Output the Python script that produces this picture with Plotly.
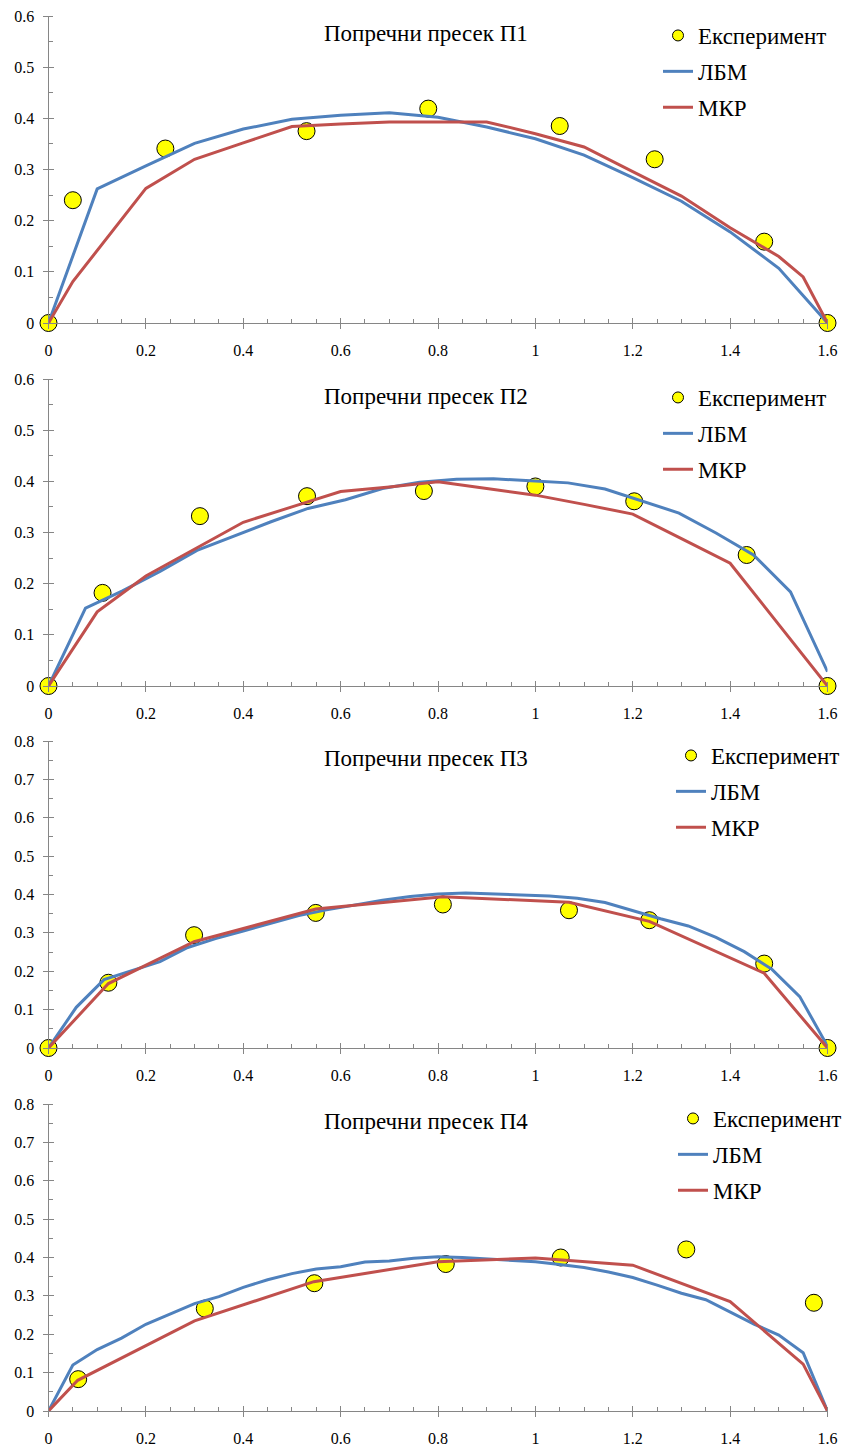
import plotly.graph_objects as go

# ---- data: velocity profiles across four cross-sections ----
titles = ["Попречни пресек П1", "Попречни пресек П2", "Попречни пресек П3", "Попречни пресек П4"]
name_exp, name_lbm, name_mkr = "Експеримент", "ЛБМ", "МКР"

exp1_x = [0, 0.05, 0.24, 0.53, 0.78, 1.05, 1.245, 1.47, 1.6]
exp1_y = [0, 0.24, 0.341, 0.375, 0.419, 0.385, 0.32, 0.159, 0]
lbm1_x = [0, 0.1, 0.2, 0.3, 0.4, 0.5, 0.6, 0.7, 0.8, 0.9, 1.0, 1.1, 1.2, 1.3, 1.4, 1.5, 1.6]
lbm1_y = [0, 0.262, 0.307, 0.351, 0.379, 0.398, 0.406, 0.411, 0.402, 0.383, 0.36, 0.328, 0.284, 0.238, 0.178, 0.107, 0]
mkr1_x = [0, 0.05, 0.2, 0.3, 0.4, 0.5, 0.6, 0.7, 0.8, 0.9, 1.0, 1.1, 1.2, 1.3, 1.4, 1.5, 1.55, 1.6]
mkr1_y = [0, 0.081, 0.263, 0.32, 0.352, 0.384, 0.389, 0.393, 0.393, 0.393, 0.37, 0.344, 0.296, 0.248, 0.186, 0.13, 0.09, 0]

exp2_x = [0, 0.111, 0.311, 0.531, 0.771, 1.0, 1.203, 1.434, 1.6]
exp2_y = [0, 0.182, 0.332, 0.371, 0.381, 0.39, 0.361, 0.256, 0]
lbm2_x = [0, 0.076, 0.152, 0.229, 0.305, 0.381, 0.457, 0.533, 0.61, 0.686, 0.762,
          0.838, 0.914, 0.99, 1.067, 1.143, 1.219, 1.295, 1.371, 1.448, 1.524, 1.6]
lbm2_y = [0, 0.152, 0.186, 0.224, 0.265, 0.293, 0.321, 0.347, 0.364, 0.386, 0.398,
          0.404, 0.405, 0.401, 0.397, 0.385, 0.362, 0.338, 0.299, 0.256, 0.184, 0.028]
mkr2_x = [0, 0.1, 0.2, 0.3, 0.4, 0.5, 0.6, 0.7, 0.8, 0.9, 1.0, 1.1, 1.2, 1.3, 1.4, 1.5, 1.6]
mkr2_y = [0, 0.145, 0.215, 0.268, 0.32, 0.35, 0.38, 0.389, 0.399, 0.386, 0.373, 0.355, 0.336, 0.288, 0.24, 0.12, 0]

exp3_x = [0, 0.123, 0.299, 0.549, 0.81, 1.069, 1.234, 1.47, 1.6]
exp3_y = [0, 0.17, 0.294, 0.352, 0.374, 0.359, 0.333, 0.22, 0]
lbm3_x = [0, 0.057, 0.114, 0.171, 0.229, 0.286, 0.343, 0.4, 0.457, 0.514, 0.571, 0.629, 0.686, 0.743, 0.8,
          0.857, 0.914, 0.971, 1.029, 1.086, 1.143, 1.2, 1.257, 1.314, 1.371, 1.429, 1.486, 1.543, 1.6]
lbm3_y = [0, 0.106, 0.178, 0.202, 0.225, 0.262, 0.285, 0.305, 0.325, 0.345, 0.36, 0.373, 0.385, 0.395, 0.401,
          0.404, 0.402, 0.399, 0.396, 0.39, 0.379, 0.357, 0.337, 0.318, 0.288, 0.251, 0.205, 0.134, 0.005]
mkr3_x = [0, 0.123, 0.299, 0.549, 0.81, 1.069, 1.234, 1.47, 1.6]
mkr3_y = [0, 0.168, 0.277, 0.362, 0.394, 0.38, 0.33, 0.195, 0]

exp4_x = [0.061, 0.321, 0.546, 0.816, 1.052, 1.31, 1.572]
exp4_y = [0.083, 0.267, 0.333, 0.383, 0.4, 0.421, 0.282]
lbm4_x = [0, 0.05, 0.1, 0.15, 0.2, 0.25, 0.3, 0.35, 0.4, 0.45, 0.5, 0.55, 0.6, 0.65, 0.7, 0.75, 0.8,
          0.85, 0.9, 0.95, 1.0, 1.05, 1.1, 1.15, 1.2, 1.25, 1.3, 1.35, 1.4, 1.45, 1.5, 1.55, 1.6]
lbm4_y = [0, 0.12, 0.16, 0.19, 0.226, 0.253, 0.28, 0.298, 0.322, 0.342, 0.358, 0.37, 0.376, 0.388, 0.391, 0.398, 0.402,
          0.4, 0.396, 0.393, 0.389, 0.382, 0.374, 0.362, 0.348, 0.328, 0.307, 0.29, 0.257, 0.226, 0.198, 0.152, 0]
mkr4_x = [0, 0.06, 0.3, 0.545, 0.8, 1.0, 1.2, 1.4, 1.55, 1.6]
mkr4_y = [0, 0.08, 0.235, 0.337, 0.389, 0.399, 0.38, 0.285, 0.122, 0]

panels = [
    (exp1_x, exp1_y, lbm1_x, lbm1_y, mkr1_x, mkr1_y, 0.6),
    (exp2_x, exp2_y, lbm2_x, lbm2_y, mkr2_x, mkr2_y, 0.6),
    (exp3_x, exp3_y, lbm3_x, lbm3_y, mkr3_x, mkr3_y, 0.8),
    (exp4_x, exp4_y, lbm4_x, lbm4_y, mkr4_x, mkr4_y, 0.8),
]

# ---- styling ----
W, H = 848, 1448
FONT = "Liberation Serif"
BLUE, RED, YELLOW = "#4F81BD", "#C0504D", "#FFFF00"
AXIS = "#868686"
plot_left, plot_right = 48.5, 827.5
tops = [16, 379, 741, 1104]
bottoms = [323, 686, 1048, 1411]
legend_left = [658, 658, 671, 673]
legend_top = [14, 376, 734, 1097]

def px_x(p):
    return p / W

def px_y(p):
    return 1 - p / H

fig = go.Figure()
layout = dict(
    template="none",
    width=W, height=H, margin=dict(l=0, r=0, t=0, b=0, pad=0, autoexpand=False),
    paper_bgcolor="white", plot_bgcolor="white",
    font=dict(family=FONT, color="black"),
    annotations=[],
)

tickfont = dict(family=FONT, size=16, color="black")

for i, (ex, ey, lx, ly, mx, my, ymax) in enumerate(panels):
    n = i + 1
    no = i + 5
    sx = "" if n == 1 else str(n)
    leg = "legend" if n == 1 else f"legend{n}"
    dom_x = [px_x(plot_left), px_x(plot_right)]
    dom_y = [px_y(bottoms[i]), px_y(tops[i])]

    # main axes: labels, outward major ticks, inward minor ticks
    layout[f"xaxis{sx}"] = dict(
        domain=dom_x, range=[0, 1.6], anchor=f"y{sx}", dtick=0.2, tick0=0, automargin=False,
        showline=True, linecolor=AXIS, linewidth=1, showgrid=False, zeroline=False,
        ticks="outside", ticklen=5, tickcolor=AXIS, tickwidth=1,
        minor=dict(ticks="inside", ticklen=4, dtick=0.05, tickcolor=AXIS, tickwidth=1, showgrid=False),
        tickfont=tickfont, ticklabelstandoff=8, fixedrange=True,
    )
    layout[f"yaxis{sx}"] = dict(
        domain=dom_y, range=[0, ymax], anchor=f"x{sx}", dtick=0.1, tick0=0, automargin=False,
        showline=True, linecolor=AXIS, linewidth=1, showgrid=False, zeroline=False,
        ticks="outside", ticklen=5, tickcolor=AXIS, tickwidth=1,
        minor=dict(ticks="inside", ticklen=4, dtick=0.05, tickcolor=AXIS, tickwidth=1, showgrid=False),
        tickfont=tickfont, ticklabelstandoff=5, fixedrange=True,
    )
    # overlay axes: inward half of the major ticks; the model curves sit on top here
    layout[f"xaxis{no}"] = dict(
        overlaying=f"x{sx}", anchor=f"y{no}", range=[0, 1.6], dtick=0.2, tick0=0, automargin=False,
        showline=False, showgrid=False, zeroline=False, showticklabels=False,
        ticks="inside", ticklen=5, tickcolor=AXIS, tickwidth=1, fixedrange=True,
    )
    layout[f"yaxis{no}"] = dict(
        overlaying=f"y{sx}", anchor=f"x{no}", range=[0, ymax], dtick=0.1, tick0=0, automargin=False,
        showline=False, showgrid=False, zeroline=False, showticklabels=False,
        ticks="inside", ticklen=5, tickcolor=AXIS, tickwidth=1, fixedrange=True,
    )

    # experimental points
    fig.add_trace(go.Scatter(
        x=ex, y=ey, mode="markers", name=name_exp, showlegend=False,
        marker=dict(size=17, color=YELLOW, line=dict(color="black", width=1)),
        xaxis=f"x{sx}", yaxis=f"y{sx}", cliponaxis=False,
    ))
    # legend entry for the experimental points (smaller symbol)
    fig.add_trace(go.Scatter(
        x=[None], y=[None], mode="markers", name=name_exp, legend=leg, legendgroup=f"e{n}",
        marker=dict(size=11, color=YELLOW, line=dict(color="black", width=1)),
        xaxis=f"x{sx}", yaxis=f"y{sx}",
    ))
    fig.add_trace(go.Scatter(
        x=lx, y=ly, mode="lines", name=name_lbm, legend=leg, legendgroup=f"l{n}",
        line=dict(color=BLUE, width=3), xaxis=f"x{no}", yaxis=f"y{no}", cliponaxis=False,
    ))
    fig.add_trace(go.Scatter(
        x=mx, y=my, mode="lines", name=name_mkr, legend=leg, legendgroup=f"m{n}",
        line=dict(color=RED, width=3), xaxis=f"x{no}", yaxis=f"y{no}", cliponaxis=False,
    ))

    layout[leg] = dict(
        x=px_x(legend_left[i]), y=px_y(legend_top[i]), xanchor="left", yanchor="top",
        bgcolor="rgba(0,0,0,0)", borderwidth=0, font=dict(family=FONT, size=23, color="black"),
        traceorder="grouped", tracegroupgap=3, itemsizing="trace",
    )
    layout["annotations"].append(dict(
        text=titles[i], xref="paper", yref="paper", x=px_x(426), y=px_y(tops[i] + 17.5),
        xanchor="center", yanchor="middle", showarrow=False,
        font=dict(family=FONT, size=23, color="black"),
    ))

fig.update_layout(**layout)
fig.write_html("out.html")
